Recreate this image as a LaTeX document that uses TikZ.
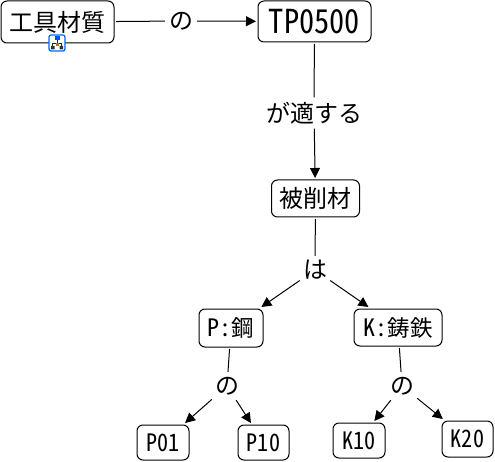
\documentclass[tikz,border=0pt]{standalone}
\usepackage{fontspec}
\usepackage{graphicx}
\newfontfamily\jp[RawFeature=+hwid]{Noto Sans CJK JP}
\usetikzlibrary{arrows.meta}
\newcommand{\hwtext}[1]{\scalebox{.92}[1]{#1}}
\tikzset{
  x=1pt,y=-1pt,
  every node/.style={font=\jp\fontsize{24}{24}\selectfont,text=black,inner sep=0pt},
  box/.style={draw=black,line width=1pt,rounded corners=6pt,outer sep=2pt,minimum width=#1,align=center},
  lab/.style={minimum width=30pt,minimum height=28pt},
  line/.style={draw=black,line width=1pt},
  arrow/.style={line,-{Triangle[length=10pt,width=10pt]}}
}
\begin{document}
\begin{tikzpicture}
\useasboundingbox (0,0) rectangle (495,462);
\node[box=113pt,minimum height=42pt] (tool) at (57.5,22) {工具材質};
\node[box=113pt,minimum height=41pt,font=\jp\fontsize{33}{33}\selectfont] (tp) at (314.5,21.5) {\hwtext{TP0500}};
\node[box=88pt,minimum height=37pt] (work) at (315.5,198.5) {被削材};
\node[box=64pt,minimum height=38pt] (steel) at (231,328) {P:{\fontsize{22.5}{24}\selectfont 鋼}};
\node[box=88pt,minimum height=37pt] (iron) at (398,327.5) {K:{\fontsize{22.5}{24}\selectfont 鋳鉄}};
\node[box=52pt,minimum height=35pt] (p01) at (163,442.5) {\hwtext{P01}};
\node[box=51pt,minimum height=35pt] (p10) at (263.5,442.5) {\hwtext{P10}};
\node[box=52pt,minimum height=35pt] (k10) at (359,440.5) {\hwtext{K10}};
\node[box=51pt,minimum height=36pt] (k20) at (467.5,439) {\hwtext{K20}};
\node[lab,minimum width=32pt] (no1) at (181,21) {の};
\node[lab,minimum height=31pt,minimum width=96pt] (fit) at (314,113) {が適する};
\node[lab] (wa) at (315,270) {は};
\node[lab] (no2) at (227,386) {の};
\node[lab] (no3) at (402,386) {の};
\draw[line] (tool) -- (no1);
\draw[arrow] (no1) -- (tp);
\draw[line] (tp) -- (fit);
\draw[arrow] (fit) -- (work);
\draw[line] (work) -- (wa);
\draw[arrow] (wa) -- (steel);
\draw[arrow] (wa) -- (iron);
\draw[line] (steel) -- (no2);
\draw[line] (iron) -- (no3);
\draw[arrow] (no2) -- (p01);
\draw[arrow] (no2) -- (p10);
\draw[arrow] (no3) -- (k10);
\draw[arrow] (no3) -- (k20);
% expand icon
\draw[draw=blue!60!cyan,fill=white,line width=1.2pt,rounded corners=2pt] (49,35) rectangle (65,51);
\draw[line width=.8pt,black!85] (57,39) -- (57,43) (52.5,47) -- (52.5,43) -- (61.5,43) -- (61.5,47);
\fill[blue!70!cyan] (54.5,36.5) rectangle (59.5,40);
\fill[black!80] (51,46) rectangle (54.5,49.5) (59.5,46) rectangle (63,49.5);
\fill[orange!80!black] (55.5,43.5) rectangle (58.5,46.5);
\end{tikzpicture}
\end{document}
